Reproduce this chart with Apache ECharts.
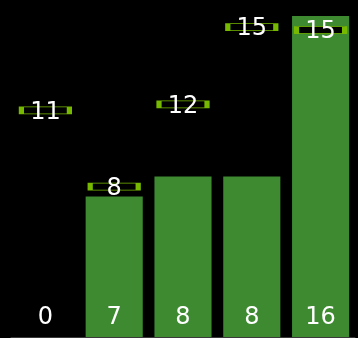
<!DOCTYPE html>
<html><head><meta charset="utf-8">
<script src="https://cdn.jsdelivr.net/npm/echarts@6/dist/echarts.min.js"></script>
<style>html,body{margin:0;padding:0;background:#000}#c{width:358px;height:338px}</style>
</head><body><div id="c"></div>
<script>
var categories = ['A', 'B', 'C', 'D', 'E'];
var barValues = [0, 7, 8, 8, 16];
var markerValues = [11.3, 7.5, 11.6, 15.45, 15.3];

var chart = echarts.init(document.getElementById('c'));
chart.setOption({
  backgroundColor: '#000',
  animation: false,
  textStyle: { fontFamily: 'DejaVu Sans' },
  grid: { left: 11, right: 3, top: 16, bottom: 1 },
  xAxis: {
    type: 'category', data: categories,
    axisLine: { show: true, lineStyle: { color: '#3a3a3a', width: 1 } },
    axisTick: { show: false }, axisLabel: { show: false }
  },
  yAxis: {
    type: 'value', min: 0, max: 16,
    show: false, splitLine: { show: false }
  },
  series: [
    {
      type: 'bar', data: barValues, barCategoryGap: '17%',
      itemStyle: { color: '#3d8a31' },
      label: {
        show: true, position: 'insideBottom', distance: 7,
        color: '#fff', fontSize: 24, fontFamily: 'DejaVu Sans',
        textBorderWidth: 0
      }
    },
    {
      type: 'scatter', data: markerValues, symbol: 'rect', symbolSize: [48, 7],
      itemStyle: { color: '#000', borderColor: '#76b900', borderWidth: 2, opacity: 1 },
      label: {
        show: true, position: 'inside', offset: [0, 2],
        color: '#fff', fontSize: 24, fontFamily: 'DejaVu Sans',
        textBorderWidth: 0,
        formatter: function (p) { return Math.round(p.value); }
      },
      z: 5
    }
  ]
});
</script></body></html>
